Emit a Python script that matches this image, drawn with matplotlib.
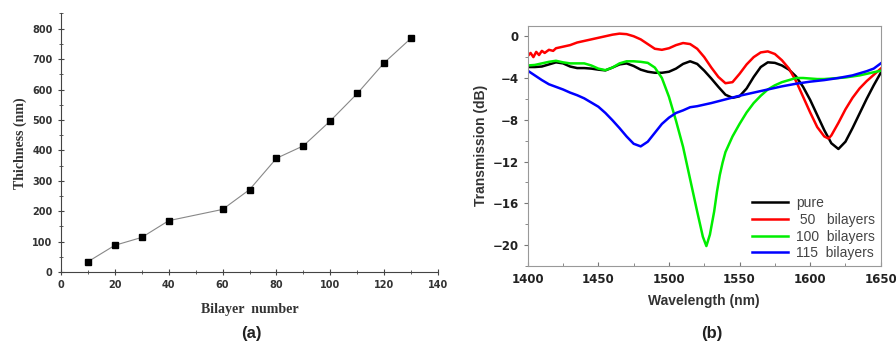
import matplotlib
matplotlib.use("Agg")
import matplotlib.pyplot as plt
from matplotlib.ticker import MultipleLocator

# ===============================
# DADOS (a): espessura x bicamadas
# ===============================
bilayers = [10, 20, 30, 40, 60, 70, 80, 90, 100, 110, 120, 130]
thickness = [34, 88, 114, 169, 206, 271, 374, 415, 497, 587, 688, 769]

# ===============================
# DADOS (b): espectros de transmissão
# ===============================
wl_pure = [1400, 1405, 1410, 1415, 1420, 1425, 1430, 1435, 1440, 1445, 1450, 1455,
           1460, 1465, 1470, 1475, 1480, 1485, 1490, 1495, 1500, 1505, 1510, 1515,
           1520, 1525, 1530, 1535, 1540, 1545, 1550, 1555, 1560, 1565, 1570, 1575,
           1580, 1585, 1590, 1595, 1600, 1605, 1610, 1615, 1620, 1625, 1630, 1635,
           1640, 1645, 1650]
t_pure = [-2.95, -2.95, -2.9, -2.7, -2.5, -2.6, -2.9, -3.05, -3.05, -3.1, -3.2, -3.27,
          -3.0, -2.7, -2.6, -2.85, -3.2, -3.4, -3.5, -3.5, -3.4, -3.1, -2.65, -2.4,
          -2.65, -3.3, -4.05, -4.85, -5.6, -5.9, -5.75, -5.0, -3.9, -2.95, -2.5, -2.55,
          -2.8, -3.2, -3.85, -4.85, -6.1, -7.55, -9.0, -10.25, -10.8, -10.1, -8.8, -7.4,
          -6.0, -4.7, -3.5]

wl_50 = [1400, 1402, 1404, 1406, 1408, 1410, 1412, 1415, 1418, 1420, 1425, 1430,
         1435, 1440, 1445, 1450, 1455, 1460, 1465, 1470, 1475, 1480, 1485, 1490,
         1495, 1500, 1505, 1510, 1515, 1520, 1525, 1530, 1535, 1540, 1545, 1550,
         1555, 1560, 1565, 1570, 1575, 1580, 1585, 1590, 1595, 1600, 1605, 1610,
         1613, 1615, 1620, 1625, 1630, 1635, 1640, 1645, 1650]
t_50 = [-1.9, -1.6, -2.0, -1.5, -1.8, -1.4, -1.6, -1.3, -1.4, -1.15, -1.0, -0.85,
        -0.6, -0.45, -0.3, -0.15, 0.0, 0.15, 0.25, 0.2, 0.0, -0.3, -0.75, -1.2,
        -1.3, -1.15, -0.85, -0.65, -0.75, -1.2, -2.0, -3.0, -3.9, -4.5, -4.4, -3.6,
        -2.7, -2.0, -1.55, -1.45, -1.7, -2.3, -3.1, -4.3, -5.8, -7.3, -8.7, -9.6,
        -9.8, -9.5, -8.3, -7.0, -5.9, -5.0, -4.3, -3.7, -3.1]

wl_100 = [1400, 1405, 1410, 1415, 1420, 1425, 1430, 1435, 1440, 1445, 1450, 1455,
          1460, 1465, 1470, 1475, 1480, 1485, 1490, 1495, 1500, 1505, 1510, 1515,
          1520, 1524, 1526.5, 1529, 1532, 1534, 1536, 1538, 1540, 1545, 1550, 1555,
          1560, 1565, 1570, 1575, 1580, 1585, 1590, 1595, 1600, 1605, 1610, 1615,
          1620, 1625, 1630, 1635, 1640, 1645, 1650]
t_100 = [-2.8, -2.75, -2.6, -2.45, -2.35, -2.5, -2.6, -2.6, -2.6, -2.8, -3.1, -3.25,
         -3.0, -2.6, -2.4, -2.4, -2.45, -2.55, -3.0, -4.0, -5.8, -8.1, -10.6, -13.7,
         -16.8, -19.2, -20.1, -19.0, -16.8, -14.9, -13.3, -12.1, -11.1, -9.6, -8.4, -7.3,
         -6.4, -5.7, -5.1, -4.7, -4.4, -4.2, -4.0, -4.0, -4.05, -4.1, -4.1, -4.05,
         -4.0, -3.95, -3.85, -3.75, -3.6, -3.45, -3.3]

wl_115 = [1400, 1405, 1410, 1415, 1420, 1425, 1430, 1435, 1440, 1445, 1450, 1455,
          1460, 1465, 1470, 1475, 1480, 1485, 1490, 1495, 1500, 1505, 1510, 1515,
          1520, 1530, 1540, 1550, 1560, 1570, 1580, 1590, 1600, 1610, 1620, 1630,
          1640, 1645, 1650]
t_115 = [-3.3, -3.75, -4.2, -4.6, -4.85, -5.1, -5.4, -5.65, -5.95, -6.35, -6.75, -7.35,
         -8.05, -8.8, -9.6, -10.3, -10.55, -10.1, -9.25, -8.4, -7.8, -7.35, -7.1, -6.8,
         -6.7, -6.4, -6.05, -5.7, -5.4, -5.1, -4.8, -4.55, -4.35, -4.2, -4.0, -3.75,
         -3.35, -3.1, -2.6]

labels_b = ["pure", " 50   bilayers", "100  bilayers", "115  bilayers"]
colors_b = ["black", "#ff0000", "#00ee00", "#0000ff"]

# ===============================
# FIGURA
# ===============================
fig = plt.figure(figsize=(8.96, 3.44), dpi=100)

serif = "Liberation Serif"
sans = "Liberation Sans"

# ---------- painel (a) ----------
ax1 = fig.add_axes([0.068, 0.209, 0.421, 0.752])
ax1.plot(bilayers, thickness, color="#888888", lw=0.8, marker="s",
         markersize=4, markerfacecolor="black", markeredgecolor="black")
ax1.set_xlim(0, 140)
ax1.set_ylim(0, 850)
ax1.xaxis.set_major_locator(MultipleLocator(20))
ax1.xaxis.set_minor_locator(MultipleLocator(10))
ax1.yaxis.set_major_locator(MultipleLocator(100))
ax1.yaxis.set_minor_locator(MultipleLocator(50))
ax1.spines["top"].set_visible(False)
ax1.spines["right"].set_visible(False)
for s in ["left", "bottom"]:
    ax1.spines[s].set_color("#444444")
ax1.tick_params(which="both", direction="inout", color="#444444")
ax1.tick_params(which="major", length=5, labelsize=7, labelcolor="#333333")
ax1.tick_params(which="minor", length=3)
for lab in ax1.get_xticklabels() + ax1.get_yticklabels():
    lab.set_fontfamily("DejaVu Sans")
    lab.set_fontweight("bold")
ax1.set_xlabel("Bilayer  number", fontfamily=serif, fontweight="bold",
               fontsize=10, color="#333333", labelpad=9)
ax1.set_ylabel("Thichness (nm)", fontfamily=serif, fontweight="bold",
               fontsize=10, color="#333333", labelpad=4)
fig.text(0.281, 0.03, "(a)", fontfamily=sans, fontweight="bold",
         fontsize=12, ha="center", va="center", color="#222222")

# ---------- painel (b) ----------
ax2 = fig.add_axes([0.589, 0.227, 0.394, 0.698])
series = [(wl_pure, t_pure), (wl_50, t_50), (wl_100, t_100), (wl_115, t_115)]
for (wl, t), c, lab in zip(series, colors_b, labels_b):
    ax2.plot(wl, t, color=c, lw=1.8, label=lab)
ax2.set_xlim(1400, 1650)
ax2.set_ylim(-22, 1)
ax2.xaxis.set_major_locator(MultipleLocator(50))
ax2.xaxis.set_minor_locator(MultipleLocator(25))
ax2.yaxis.set_major_locator(MultipleLocator(4))
ax2.yaxis.set_minor_locator(MultipleLocator(2))
for s in ax2.spines.values():
    s.set_color("#999999")
ax2.tick_params(axis="x", which="both", direction="in", color="#777777", pad=5)
ax2.tick_params(axis="y", which="both", direction="out", color="#777777")
ax2.tick_params(which="major", length=3, labelsize=8.5, labelcolor="#222222")
ax2.tick_params(which="minor", length=2)
for lab in ax2.get_xticklabels() + ax2.get_yticklabels():
    lab.set_fontfamily("DejaVu Sans")
    lab.set_fontweight("bold")
ax2.set_xlabel("Wavelength (nm)", fontfamily=sans, fontweight="bold",
               fontsize=10, color="#333333", labelpad=6)
ax2.set_ylabel("Transmission (dB)", fontfamily=sans, fontweight="bold",
               fontsize=10, color="#333333", labelpad=3)
leg = ax2.legend(loc="lower right", frameon=False, handlelength=2.6,
                 labelspacing=0.2, borderaxespad=0.0, handletextpad=0.6,
                 prop={"family": sans, "size": 10})
for txt in leg.get_texts():
    txt.set_color("#444444")
fig.text(0.794, 0.03, "(b)", fontfamily=sans, fontweight="bold",
         fontsize=12, ha="center", va="center", color="#222222")

fig.savefig("out.png", dpi=100)
